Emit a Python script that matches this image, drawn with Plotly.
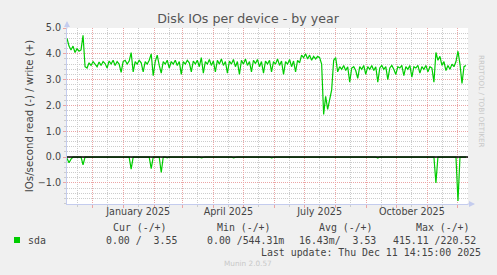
import pandas as pd
import plotly.graph_objects as go

# ---------------- data ----------------
start_date = "2024-11-06"
end_date = "2025-12-11"

write_vals = [
    4.6, 4.3, 4.15, 4.3, 4.05, 4.2, 4.1, 4.15, 4.72, 3.5,
    3.45, 3.65, 3.55, 3.7, 3.6, 3.5, 3.68, 3.55, 3.7, 3.62,
    3.45, 3.72, 3.6, 3.75, 3.55, 3.7, 3.6, 3.28, 3.7, 3.75,
    3.6, 3.72, 4.05, 3.3, 3.7, 3.6, 3.75, 3.65, 3.3, 3.7,
    3.6, 3.75, 4.0, 3.15, 3.7, 3.95, 3.55, 3.25, 3.7, 3.6,
    3.75, 3.45, 3.7, 3.6, 3.75, 3.55, 3.7, 3.2, 3.7, 3.6,
    3.75, 3.65, 3.3, 3.72, 3.6, 3.75, 3.5, 3.85, 3.25, 3.7,
    3.6, 3.78, 3.55, 3.72, 3.3, 3.75, 3.6, 3.8, 3.55, 3.7,
    3.25, 3.72, 3.6, 3.78, 3.5, 3.7, 3.2, 3.75, 3.6, 3.8,
    3.55, 3.7, 3.3, 3.75, 3.62, 3.78, 3.5, 3.7, 3.25, 3.72,
    3.6, 3.75, 3.3, 3.7, 3.6, 3.8, 3.55, 3.72, 3.2, 3.7,
    3.6, 3.78, 3.5, 3.72, 3.3, 3.75, 3.65, 3.95, 3.85, 4.0,
    3.8, 3.95, 3.75, 3.9, 3.8, 3.9, 3.85, 3.6, 1.65, 2.35,
    1.85, 2.3, 2.6, 3.75, 3.85, 3.3, 3.5, 3.4, 3.55, 3.35,
    3.5, 2.9, 3.45, 3.5, 3.35, 3.05, 3.5, 3.4, 3.55, 3.2,
    3.5, 3.4, 3.55, 3.35, 3.5, 2.9, 3.45, 3.55, 3.4, 3.5,
    3.0, 3.45, 3.55, 3.4, 3.2, 3.5, 3.45, 3.55, 3.15, 3.5,
    3.4, 3.55, 3.1, 3.5, 3.45, 3.55, 3.25, 3.5, 3.4, 3.55,
    3.3, 3.5, 3.45, 2.9, 4.05, 3.75, 3.9, 3.55, 3.7, 3.35,
    3.55, 3.4, 3.6, 3.5, 3.7, 4.1, 3.6, 2.85, 3.5, 3.55,
]

read_vals = [
    -0.05, -0.22, -0.08, 0, 0, 0, 0, 0, -0.3, 0,
    0, 0, 0, 0, 0, 0, 0, 0, 0, 0,
    0, 0, 0, 0, 0, 0, 0, 0, 0, 0,
    0, 0, -0.47, 0, 0, 0, 0, 0, 0, 0,
    0, 0, -0.45, 0, 0, 0, 0, -0.6, 0, 0,
    -0.03, 0, 0, 0, 0, 0, 0, 0, 0, 0,
    0, 0, 0, 0, 0, 0, 0, -0.03, 0, 0,
    0, 0, 0, 0, 0, 0, 0, 0, 0, 0,
    0, 0, 0, -0.03, 0, 0, 0, 0, 0, 0,
    0, 0, 0, 0, 0, 0, 0, 0, 0, 0,
    0, 0, -0.03, 0, 0, 0, 0, 0, 0, 0,
    0, 0, 0, 0, 0, 0, 0, 0, 0, 0,
    0, 0, 0, 0, 0, 0, 0, 0, 0, 0,
    0, 0, 0, 0, 0, 0, 0, 0, 0, 0,
    0, 0, 0, 0, 0, 0, 0, 0, 0, 0,
    0, 0, 0, 0, 0, -0.04, 0, 0, 0, 0,
    0, 0, 0, 0, 0, 0, 0, 0, 0, 0,
    0, 0, 0, 0, 0, 0, 0, 0, 0, 0,
    0, 0, 0, 0, -1.0, 0, 0, 0, 0, 0,
    0, 0, 0, 0, 0, -1.7, 0, 0, 0, 0,
]

dates = pd.date_range(start_date, periods=len(write_vals), freq="2D")

month_ticks = pd.date_range("2024-12-01", "2025-12-01", freq="MS")
label_dates = ["2025-01-16", "2025-04-16", "2025-07-16", "2025-10-16"]
label_texts = ["January 2025", "April 2025", "July 2025", "October 2025"]

y_range = [-1.82, 5.0]

legend_name = "sda"
col_headers = ["Cur (-/+)", "Min (-/+)", "Avg (-/+)", "Max (-/+)"]
col_values = ["0.00 /  3.55", "0.00 /544.31m", "16.43m/  3.53", "415.11 /220.52"]
last_update = "Last update: Thu Dec 11 14:15:00 2025"

# ---------------- style ----------------
GREEN = "#00CC00"
MAJOR = "#EBA5A5"
MINOR = "#CCCCCC"
AXIS = "#C4CCEE"
TXT = "#444444"
DOTS = "1px,1px"
W, H = 497, 275
L, R, T, B = 67, 468, 28, 204

fig = go.Figure()
fig.add_trace(go.Scatter(x=dates, y=read_vals, mode="lines",
                         line=dict(color=GREEN, width=1.2), showlegend=False,
                         hoverinfo="skip"))
fig.add_trace(go.Scatter(x=dates, y=write_vals, mode="lines",
                         line=dict(color=GREEN, width=1.2), showlegend=False,
                         hoverinfo="skip"))
# dummy trace to realise the label axis
fig.add_trace(go.Scatter(x=dates[:1], y=[None], xaxis="x2", showlegend=False,
                         hoverinfo="skip"))

fig.update_layout(
    width=W, height=H,
    margin=dict(l=L, r=W - R, t=T, b=H - B, pad=0),
    paper_bgcolor="#F0F0F0", plot_bgcolor="#FFFFFF",
    font=dict(family="DejaVu Sans", size=10, color=TXT),
    title=dict(text="Disk IOs per device - by year", x=248 / W, xanchor="center",
               y=1 - 19 / H, yanchor="middle",
               font=dict(family="DejaVu Sans", size=12.6, color="#555555")),
    xaxis=dict(
        type="date", range=[start_date, end_date],
        tickvals=list(month_ticks), showticklabels=False,
        showgrid=True, gridcolor=MAJOR, griddash=DOTS, gridwidth=1,
        ticks="outside", ticklen=3, tickcolor=MAJOR, tickwidth=1,
        minor=dict(tick0="2024-11-16", dtick="M1", showgrid=True,
                   gridcolor=MINOR, griddash=DOTS, gridwidth=1,
                   ticks="outside", ticklen=2, tickcolor=MINOR),
        showline=True, linecolor=AXIS, linewidth=1, zeroline=False,
    ),
    xaxis2=dict(
        type="date", range=[start_date, end_date], overlaying="x",
        side="bottom", anchor="y",
        tickvals=label_dates, ticktext=label_texts, ticks="",
        showgrid=False, showline=False, zeroline=False,
        tickfont=dict(family="DejaVu Sans", size=9.6, color=TXT),
    ),
    yaxis=dict(
        range=y_range, tick0=0, dtick=1, tickformat=".1f",
        showgrid=True, gridcolor=MAJOR, griddash=DOTS, gridwidth=1,
        ticks="outside", ticklen=3, tickcolor=MAJOR,
        minor=dict(tick0=0, dtick=0.2, showgrid=True, gridcolor=MINOR,
                   griddash=DOTS, gridwidth=1, ticks="outside", ticklen=2,
                   tickcolor=MINOR),
        showline=True, linecolor=AXIS, linewidth=1, zeroline=False,
        tickfont=dict(family="DejaVu Sans", size=9.6, color=TXT),
        title=dict(text="IOs/second read (-) / write (+)", standoff=2,
                   font=dict(family="DejaVu Sans", size=10.2, color=TXT)),
    ),
)

# zero line on top of the data
fig.add_shape(type="line", xref="paper", x0=0, x1=1, yref="y", y0=0, y1=0,
              line=dict(color="black", width=1.5), layer="above")

pw = R - L
ph = B - T


def px(x):
    return (x - L) / pw


def py(y):
    return (B - y) / ph


# axis arrows
fig.add_annotation(x=0, y=py(21), xref="paper", yref="paper", ax=0, ay=9,
                   text="", showarrow=True, arrowhead=2, arrowsize=1.2,
                   arrowwidth=1, arrowcolor=AXIS)
fig.add_annotation(x=px(475), y=0, xref="paper", yref="paper", ax=-9, ay=0,
                   text="", showarrow=True, arrowhead=2, arrowsize=1.2,
                   arrowwidth=1, arrowcolor=AXIS)

# watermark
fig.add_annotation(x=px(488), y=py(53), xref="paper", yref="paper",
                   text="RRDTOOL / TOBI OETIKER", textangle=90, showarrow=False,
                   font=dict(family="DejaVu Sans", size=7.2, color="#C8C8C8"))

# legend
mono = dict(family="DejaVu Sans Mono", size=9.9, color=TXT)
fig.add_shape(type="rect", xref="paper", yref="paper",
              x0=px(14), x1=px(20), y0=py(243), y1=py(237),
              fillcolor=GREEN, line=dict(width=0))
fig.add_annotation(x=px(27), y=py(240), xref="paper", yref="paper",
                   text=legend_name, showarrow=False, xanchor="left",
                   yanchor="middle", font=mono, borderpad=0)
header_right = [168, 272, 374, 471]
value_right = [178, 285, 377, 477]
for txt, xr in zip(col_headers, header_right):
    fig.add_annotation(x=px(xr), y=py(228), xref="paper", yref="paper",
                       text=txt.replace(" ", "\u00a0"), showarrow=False,
                       xanchor="right", yanchor="middle", font=mono, borderpad=0)
for txt, xr in zip(col_values, value_right):
    fig.add_annotation(x=px(xr), y=py(240), xref="paper", yref="paper",
                       text=txt.replace(" ", "\u00a0"), showarrow=False,
                       xanchor="right", yanchor="middle", font=mono, borderpad=0)
fig.add_annotation(x=px(482), y=py(252), xref="paper", yref="paper",
                   text=last_update.replace(" ", "\u00a0"), showarrow=False,
                   xanchor="right", yanchor="middle", font=mono, borderpad=0)
fig.add_annotation(x=px(248), y=py(263), xref="paper", yref="paper",
                   text="Munin 2.0.57", showarrow=False, xanchor="center",
                   yanchor="middle", borderpad=0,
                   font=dict(family="DejaVu Sans", size=7.3, color="#C8C8C8"))

fig.write_html("out.html")
